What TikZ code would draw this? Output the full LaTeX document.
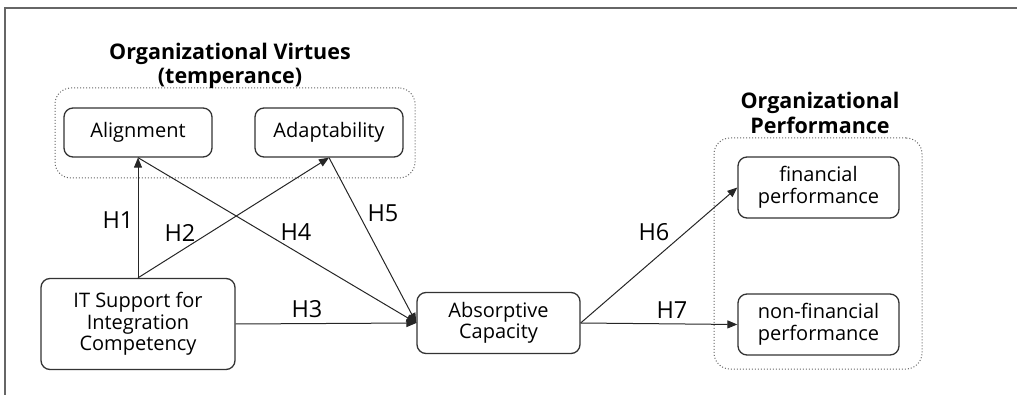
\documentclass[tikz,border=0pt]{standalone}
\usepackage{fontspec}
\setmainfont{Open Sans}
\usetikzlibrary{arrows.meta}
\begin{document}
\begin{tikzpicture}[x=1pt,y=-1pt,
  box/.style={draw=black!80, line width=1.3pt, rounded corners=9pt, align=center,
    font=\fontsize{20}{21.5}\selectfont, inner sep=0pt},
  grp/.style={draw=black!60, dotted, line width=1pt, rounded corners=16pt, inner sep=0pt},
  arr/.style={-{Triangle[length=10pt,width=8pt]}, line width=1pt, draw=black!85},
  hl/.style={font=\fontsize{23.5}{26}\selectfont, inner sep=0pt},
  ttl/.style={font=\bfseries\fontsize{21.5}{24.5}\selectfont, align=center, inner sep=0pt}]
\useasboundingbox (0,0) rectangle (1017,395);
\draw[black!60, line width=1.5pt] (5,395) -- (5,8) -- (1017,8);
% groups
\node[grp, minimum width=360, minimum height=90] (ov) at (235,133) {};
\node[grp, minimum width=208, minimum height=231] (op) at (818,253.5) {};
\node[ttl] (ovt) at (230,66) {Organizational Virtues\\(temperance)};
\node[ttl] (opt) at (820,113) {Organizational\\Performance};
% boxes
\node[box, minimum width=148, minimum height=49] (align) at (138,132.5) {Alignment};
\node[box, minimum width=148, minimum height=49] (adapt) at (329,132.5) {Adaptability};
\node[box, minimum width=194, minimum height=91] (it) at (138,324) {IT Support for\\Integration\\Competency};
\node[box, minimum width=163, minimum height=61] (abs) at (498.5,323) {Absorptive\\Capacity};
\node[box, minimum width=161, minimum height=61] (fin) at (818.5,187.5) {financial\\performance};
\node[box, minimum width=161, minimum height=61] (nfin) at (818.5,324.5) {non-financial\\performance};
% arrows
\draw[arr] (it.north) -- (align.south);
\draw[arr] (it.north) -- (adapt.south);
\draw[arr] (it.east) -- (abs.west);
\draw[arr] (align.south) -- (abs.west);
\draw[arr] (adapt.south) -- (abs.west);
\draw[arr] (abs.east) -- (fin.west);
\draw[arr] (abs.east) -- (nfin.west);
% labels
\node[hl] (h1) at (118,220) {H1};
\node[hl] (h2) at (180,233) {H2};
\node[hl] (h3) at (307,309) {H3};
\node[hl] (h4) at (296,232) {H4};
\node[hl] (h5) at (383,213) {H5};
\node[hl] (h6) at (654,232) {H6};
\node[hl] (h7) at (672,310) {H7};
\end{tikzpicture}
\end{document}
